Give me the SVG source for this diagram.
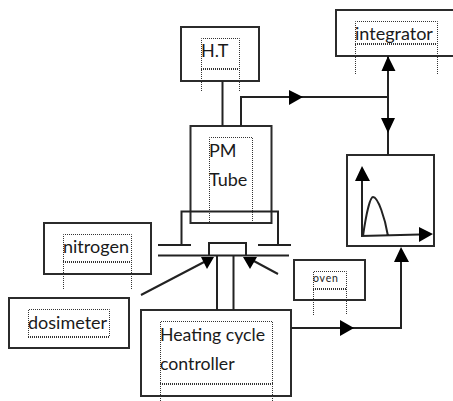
<svg xmlns="http://www.w3.org/2000/svg" width="453" height="401" viewBox="0 0 453 401">
<style>
.b{fill:#fff;stroke:#2b2b2b;stroke-width:2}
.l{fill:none;stroke:#222;stroke-width:2}
.d{fill:none;stroke:#333;stroke-width:1;stroke-dasharray:1 1}
.e{fill:none;stroke:#333;stroke-width:2;stroke-dasharray:1 1}
.h{fill:#000}
text{font-family:Lato,"Open Sans","Liberation Sans",sans-serif;font-size:18px;fill:#1a1a1a}
</style>
<rect width="453" height="401" fill="#fff"/>
<g id="nitrogen"><rect class="b" x="44" y="223" width="107" height="51"/><path class="d" d="M63.500 289V234.500H131.500V289"/><path class="e" d="M63 262H131"/><text x="63" y="253">nitrogen</text></g>
<g id="dosimeter"><rect class="b" x="9" y="298" width="120" height="50"/><path class="d" d="M28.500 337V309.500H109.500V337"/><path class="e" d="M28 337H110"/><text x="28" y="329">dosimeter</text></g>
<g id="ht"><rect class="b" x="181" y="27" width="78" height="54"/><path class="d" d="M201.500 91V38.500H239.500V91"/><path class="e" d="M201 69H239"/><text x="201" y="57">H.T</text></g>
<g id="integrator"><rect class="b" x="336" y="10" width="125" height="46"/><path class="d" d="M355.500 74V21.500H437.500V74"/><path class="e" d="M355 44H437"/><text x="355" y="40">integrator</text></g>
<g id="pm-tube"><rect class="b" x="190.500" y="126" width="81" height="97"/><path class="d" d="M209.500 222V137.500H252.500V222"/><text x="209" y="157">PM</text><text x="209" y="186">Tube</text></g>
<g id="analyser"><rect class="b" x="347" y="155" width="87" height="91"/><path class="l" d="M362 236V172M361 236L420 234.500M363 236C366 215 370 197 373 197C378 197 385 218 388 236"/><path class="h" d="M362 166L355 181H370ZM433 234L419 227V242Z"/></g>
<g id="oven"><rect class="b" x="294" y="260" width="71" height="40"/><path class="d" d="M313.500 315V271.500H346.500V315"/><path class="e" d="M313 289H346"/><text x="313" y="282" style="font-size:10.500px;letter-spacing:.8px">oven</text></g>
<g id="heating"><rect class="b" x="141" y="310" width="150" height="86"/><path class="d" d="M160.500 401V321.500H272.500V401"/><path class="e" d="M160 384H273"/><text x="160" y="341" style="font-size:17.700px">Heating cycle</text><text x="160" y="370" style="font-size:17.700px">controller</text></g>
<g id="chamber"><path class="l" d="M181.500 245V211.500H278V246M158 245H191M258 245H291M158 255.500H289M209 255.500V243H246V255.500"/></g>
<g id="connectors"><path class="l" d="M222.500 81V126M241 126V97H388M388 56V155M217 256V310M233.500 256V310M291 328H401V250M141 295L206 261M278 274L252 260"/><path class="h" d="M388 56L381.500 71H395.500ZM303 97L289 90V105ZM388 133L381 118H395ZM207 269L201 257H214ZM250 269L243 257H257ZM354 328L340 320V336ZM401 247L394 262H409Z"/></g>
</svg>
